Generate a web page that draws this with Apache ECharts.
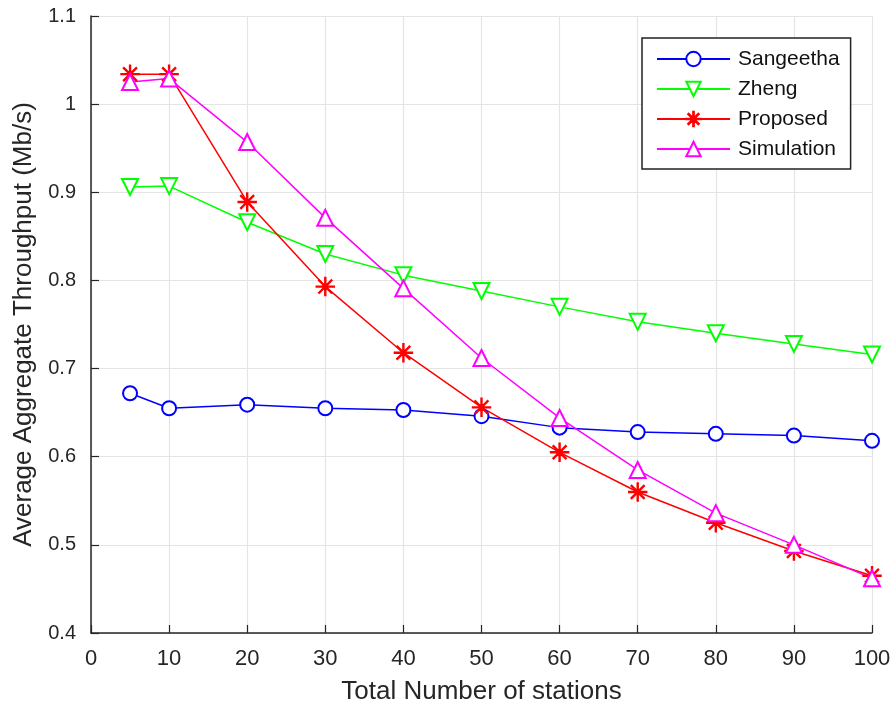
<!DOCTYPE html>
<html><head><meta charset="utf-8">
<script src="https://cdn.jsdelivr.net/npm/echarts@6/dist/echarts.min.js"></script>
<style>html,body{margin:0;padding:0;background:#fff}#c{width:895px;height:710px}</style>
</head><body><div id="c"></div>
<script>
const stations = [5, 10, 20, 30, 40, 50, 60, 70, 80, 90, 100];
const sangeetha = [0.672, 0.655, 0.659, 0.655, 0.653, 0.646, 0.633, 0.628, 0.626, 0.624, 0.618];
const zheng = [0.906, 0.907, 0.866, 0.830, 0.806, 0.788, 0.770, 0.753, 0.740, 0.728, 0.716];
const proposed = [1.034, 1.034, 0.889, 0.793, 0.718, 0.656, 0.605, 0.560, 0.525, 0.493, 0.465];
const simulation = [1.025, 1.029, 0.957, 0.871, 0.791, 0.712, 0.644, 0.585, 0.536, 0.500, 0.462];

const asterisk = 'path://M9.5 0H10.5V20H9.5Z M0 9.5H20V10.5H0Z M3.28 2.57L17.43 16.72L16.72 17.43L2.57 3.28Z M17.43 3.28L3.28 17.43L2.57 16.72L16.72 2.57Z';
const pair = arr => stations.map((x, i) => [x, arr[i]]);
const font = '"Liberation Sans", Arial, Helvetica, sans-serif';
const axisColor = '#262626';

function mk(name, data, color, symbol, size, rotate) {
  return {
    name, type: 'line', data: pair(data), symbol, symbolSize: size, symbolRotate: rotate || 0,
    showAllSymbol: true, animation: false,
    lineStyle: { color, width: 1.5 },
    itemStyle: { color, borderWidth: 1.5, borderColor: color },
    emphasis: { disabled: true }
  };
}

const chart = echarts.init(document.getElementById('c'), null, { renderer: 'canvas' });
chart.setOption({
  animation: false,
  textStyle: { fontFamily: font },
  grid: { left: 91, right: 23, top: 16, bottom: 77, containLabel: false },
  xAxis: {
    type: 'value', min: 0, max: 100, interval: 10,
    name: 'Total Number of stations', nameLocation: 'middle', nameGap: 46,
    nameTextStyle: { fontSize: 26, color: axisColor, fontFamily: font },
    axisLine: { show: true, onZero: false, lineStyle: { color: axisColor, width: 1.5 } },
    axisTick: { show: true, inside: true, length: 8, lineStyle: { color: axisColor, width: 1.2 } },
    axisLabel: { fontSize: 22, color: axisColor, margin: 15, fontFamily: font },
    splitLine: { show: true, lineStyle: { color: '#e4e4e4', width: 1.2 } }
  },
  yAxis: {
    type: 'value', min: 0.4, max: 1.1, interval: 0.1,
    name: 'Average Aggregate Throughput (Mb/s)', nameLocation: 'middle', nameGap: 54,
    nameTextStyle: { fontSize: 26, color: axisColor, fontFamily: font },
    axisLine: { show: true, onZero: false, lineStyle: { color: axisColor, width: 1.5 } },
    axisTick: { show: true, inside: true, length: 8, lineStyle: { color: axisColor, width: 1.2 } },
    axisLabel: { fontSize: 20, color: axisColor, margin: 15, fontFamily: font,
      formatter: v => (Math.round(v * 10) / 10).toString() },
    splitLine: { show: true, lineStyle: { color: '#e4e4e4', width: 1.2 } }
  },
  legend: {
    orient: 'vertical', left: 642, top: 38,
    padding: [10, 11, 9, 14],
    itemWidth: 73, itemHeight: 18, itemGap: 8,
    borderColor: '#222', borderWidth: 1.5, backgroundColor: '#fff',
    textStyle: { fontSize: 21, lineHeight: 22, color: '#111', fontFamily: font, padding: [0, 0, 0, 3] },
    data: ['Sangeetha', 'Zheng', 'Proposed', 'Simulation']
  },
  series: [
    mk('Sangeetha', sangeetha, '#0000ff', 'emptyCircle', 14),
    mk('Zheng', zheng, '#00ff00', 'emptyTriangle', 16, 180),
    mk('Proposed', proposed, '#ff0000', asterisk, 18),
    mk('Simulation', simulation, '#ff00ff', 'emptyTriangle', 16)
  ]
});
</script></body></html>
